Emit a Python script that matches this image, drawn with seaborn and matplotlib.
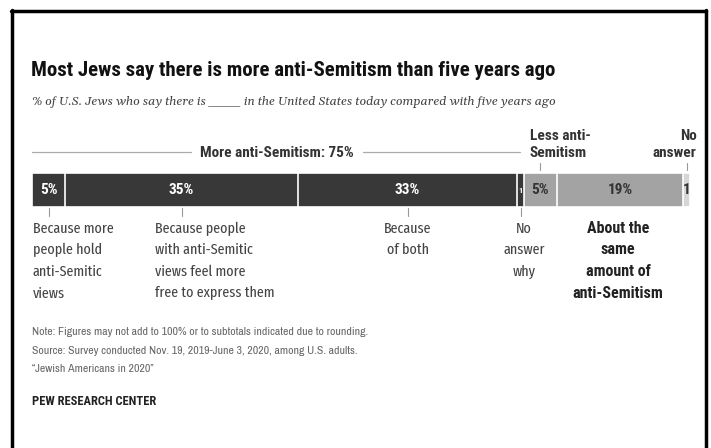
import matplotlib
matplotlib.use("Agg")
import matplotlib.pyplot as plt
from matplotlib import font_manager as fm
from matplotlib.transforms import blended_transform_factory
from matplotlib.lines import Line2D
import seaborn as sns
import pandas as pd
import numpy as np

# ---- data ----
segments = ["Because more people hold anti-Semitic views",
            "Because people with anti-Semitic views feel more free to express them",
            "Because of both", "No answer why",
            "Less anti-Semitism", "About the same amount of anti-Semitism", "No answer"]
values = [5, 35, 33, 1, 5, 19, 1]
value_labels = ["5%", "35%", "33%", "1", "5%", "19%", "1"]
below_labels = ["Because more\npeople hold\nanti-Semitic\nviews",
                "Because people\nwith anti-Semitic\nviews feel more\nfree to express them",
                "Because\nof both", "No\nanswer\nwhy"]
same_label = "About the\nsame\namount of\nanti-Semitism"
more_total_label = "More anti-Semitism: 75%"
less_label = "Less anti-\nSemitism"
noans_label = "No\nanswer"
title = "Most Jews say there is more anti-Semitism than five years ago"
subtitle = "% of U.S. Jews who say there is ____ in the United States today compared with five years ago"
notes = ["Note: Figures may not add to 100% or to subtotals indicated due to rounding.",
         "Source: Survey conducted Nov. 19, 2019-June 3, 2020, among U.S. adults.",
         "\u201cJewish Americans in 2020\u201d"]
credit = "PEW RESEARCH CENTER"

sns.set_theme(style="white")
fl = fm.fontManager.ttflist
def find(name, bold=False, italic=False):
    for f in fl:
        if f.name != name:
            continue
        w = f.weight if isinstance(f.weight, int) else 400
        if bold and w < 600:
            continue
        if not bold and w > 500:
            continue
        if italic and f.style == "normal":
            continue
        if not italic and f.style != "normal":
            continue
        return f.fname
    return None
def pick(cands, bold=False, italic=False, default="DejaVu Sans"):
    for c in cands:
        if find(c, bold, italic):
            return c
    return default
REG = pick(["Fira Sans Extra Condensed", "Archivo Narrow", "Roboto Condensed", "Liberation Sans"])
NOTE = pick(["Archivo Narrow", "Roboto Condensed", "Liberation Sans"])
BOLD = pick(["Roboto Condensed", "Archivo Narrow", "Liberation Sans"], bold=True)
ital_file = None
for c in ["Gelasio", "PT Serif", "Liberation Serif"]:
    ital_file = find(c, italic=True)
    if ital_file:
        break
plt.rcParams["font.family"] = [REG, "DejaVu Sans"]
BF = [BOLD, "DejaVu Sans"]
NF = [NOTE, "DejaVu Sans"]

W, H = 711, 448
fig = plt.figure(figsize=(W / 100, H / 100), dpi=100)
fig.patch.set_facecolor("white")
fig.canvas.draw()
r = fig.canvas.get_renderer()

def fy(py):
    return 1 - py / H

def fx(px):
    return px / W

def text_w(s, fp):
    w, h, d = r.get_text_width_height_descent(s, fp, ismath=False)
    return w

x0, x1 = 32, 690
total = sum(values)
bar_top, bar_bot = 173, 207
ax = fig.add_axes([fx(x0), fy(bar_bot), fx(x1) - fx(x0), (bar_bot - bar_top) / H])

dark, light, lighter = "#383838", "#a3a3a3", "#d6d6d6"
colors = [dark, dark, dark, dark, light, light, lighter]
cum = np.cumsum(values)
df = pd.DataFrame({"cat": ["all"] * len(values), "end": cum, "seg": segments})
for i in range(len(values) - 1, -1, -1):
    sns.barplot(data=df.iloc[[i]], x="end", y="cat", color=colors[i], width=1.0,
                edgecolor="white", linewidth=1.2, ax=ax, orient="h", saturation=1)
ax.set_xlim(0, total)
ax.set_ylim(0.5, -0.5)
ax.axis("off")

starts = cum - np.array(values)
centers = starts + np.array(values) / 2.0
tr = blended_transform_factory(ax.transData, fig.transFigure)

# value labels in bar
for i, (c, lab) in enumerate(zip(centers, value_labels)):
    col = "white" if colors[i] == dark else "#333333"
    fs = 6 if i == 3 else 11
    ax.text(c, 0, lab, ha="center", va="center", color=col, fontsize=fs,
            fontweight="bold", family=BF)

# tick lines below bar for the "more" sub-segments
for i in range(4):
    fig.add_artist(Line2D([centers[i], centers[i]], [fy(208), fy(216)], transform=tr,
                          color="#999999", lw=0.8))

def block(x, baselines, label, transform, **kw):
    for b, line in zip(baselines, label.split("\n")):
        fig.text(x, fy(b), line, transform=transform, va="baseline", **kw)

# label font sized so "Because more" is ~81 px wide
fp = fm.FontProperties(family=REG, size=12)
fs_lab = min(13.5, 12 * 81 / text_w("Because more", fp))
pitch = 21.5
bls = [233 + pitch * k for k in range(4)]
lab_kw = dict(fontsize=fs_lab, color="#444444")
block(centers[0] - 2.4, bls, below_labels[0], tr, ha="left", **lab_kw)
block(centers[1] - 4.0, bls, below_labels[1], tr, ha="left", **lab_kw)
block(centers[2], bls, below_labels[2], tr, ha="center", **lab_kw)
block(centers[3] + 0.5, bls, below_labels[3], tr, ha="center", **lab_kw)
block(centers[5] - 0.3, bls, same_label, tr, ha="center", fontsize=11.5,
      color="#222222", fontweight="bold", family=BF)

# header labels above bar
mt = fig.text(fx(277), fy(157), more_total_label, ha="center",
              va="baseline", fontsize=11, fontweight="bold", color="#333333", family=BF)
hdr_kw = dict(fontsize=11, fontweight="bold", color="#333333", family=BF)
block(starts[4] + 0.9, [140, 157], less_label, tr, ha="left", **hdr_kw)
block(total + 1.0, [140, 157], noans_label, tr, ha="right", **hdr_kw)
for i in (4, 6):
    fig.add_artist(Line2D([centers[i], centers[i]], [fy(163), fy(170)], transform=tr,
                          color="#999999", lw=0.8))

# title & subtitle (fit to the reference widths)
tt = fig.text(fx(31), fy(76), title, ha="left", va="baseline", fontsize=16,
              fontweight="bold", color="#111111", family=BF)
if ital_file:
    sfp = fm.FontProperties(fname=ital_file, size=9.5)
else:
    sfp = fm.FontProperties(family="DejaVu Serif", style="italic", size=9.5)
st = fig.text(fx(32), fy(105), subtitle, ha="left", va="baseline", fontproperties=sfp,
              color="#444444")
fig.canvas.draw()
for t, target in ((tt, 524), (st, 523)):
    w = t.get_window_extent(r).width
    t.set_fontsize(t.get_fontsize() * target / w)

bb = mt.get_window_extent(r)
gap = 9
fig.add_artist(Line2D([fx(x0), fx(bb.x0 - gap)], [fy(152), fy(152)], color="#aaaaaa", lw=0.9))
fig.add_artist(Line2D([fx(bb.x1 + gap), fx(520)], [fy(152), fy(152)], color="#aaaaaa", lw=0.9))

# notes
for k, t in enumerate(notes):
    fig.text(fx(32), fy(335 + 18.5 * k), t, ha="left", va="baseline", fontsize=8.5,
             color="#666666", family=NF)
fig.text(fx(32), fy(405), credit, ha="left", va="baseline", fontsize=9,
         fontweight="bold", color="#222222", family=BF)

# frame
for xs, ys in [([fx(11), fx(706)], [fy(11), fy(11)]),
               ([fx(12), fx(12)], [fy(10), 0]),
               ([fx(706), fx(706)], [fy(10), 0])]:
    fig.add_artist(Line2D(xs, ys, color="black", lw=2.5))

fig.savefig("out.png", dpi=100)
